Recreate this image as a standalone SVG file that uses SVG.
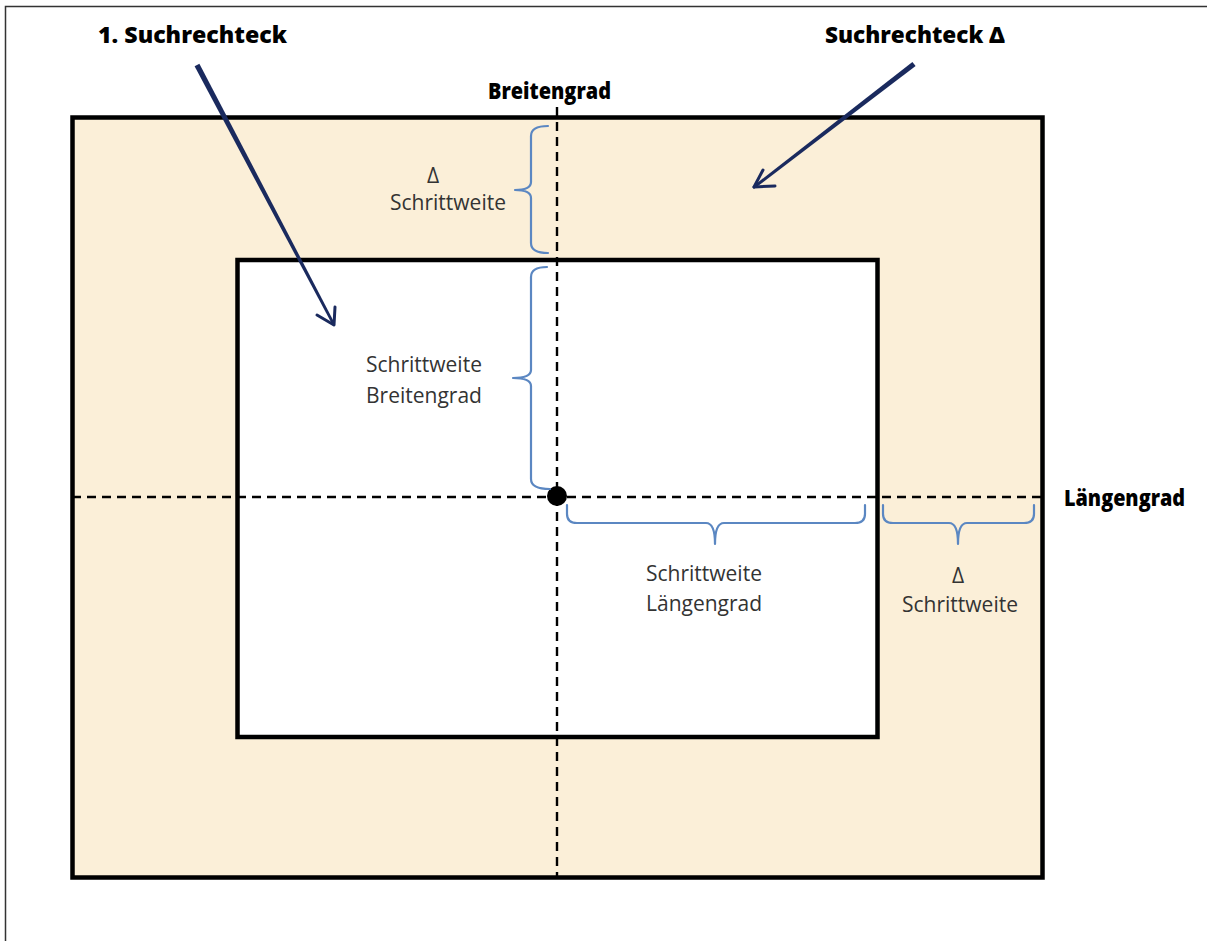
<svg xmlns="http://www.w3.org/2000/svg" width="1207" height="941" viewBox="0 0 1207 941">
  <style>
    .frame { fill: none; stroke: #333333; stroke-width: 1.5; }
    .box { stroke: #000000; stroke-width: 4.5; }
    .axis { fill: none; stroke: #000000; stroke-width: 2.4; stroke-dasharray: 9 6; }
    .brace { fill: none; stroke: #5b87c2; stroke-width: 2.2; stroke-linecap: round; stroke-linejoin: round; }
    .shaft { fill: #1a2a5e; }
    .head { fill: none; stroke: #1a2a5e; stroke-width: 3; stroke-linecap: round; stroke-linejoin: round; }
    .title { font-family: "Open Sans", "Liberation Sans", sans-serif; font-weight: 800; font-size: 22px; fill: #000000; }
    .label { font-family: "Open Sans", "Liberation Sans", sans-serif; font-size: 21px; fill: #333333; }
  </style>

  <rect x="0" y="0" width="1207" height="941" fill="#ffffff"/>
  <!-- page frame -->
  <path class="frame" d="M5.5,945 L5.5,6.5 L1207,6.5"/>

  <!-- search rectangle enlarged by delta -->
  <g id="outer-rect">
    <rect class="box" x="72.5" y="117.5" width="970" height="760" fill="#fbefd8"/>
  </g>

  <!-- first search rectangle -->
  <g id="inner-rect">
    <rect class="box" x="237.5" y="260" width="640" height="477" fill="#ffffff"/>
  </g>

  <!-- latitude / longitude axes -->
  <g id="axes">
    <line class="axis" x1="557" y1="107" x2="557" y2="877"/>
    <line class="axis" x1="72" y1="497" x2="1044" y2="497"/>
  </g>

  <g id="center-point">
    <circle cx="557" cy="496" r="10" fill="#000000"/>
  </g>

  <!-- curly braces marking step widths -->
  <g id="braces">
    <path class="brace" d="M548,126 Q531,126 531,136 L531,182 Q531,190 515,190 Q531,190 531,198 L531,243 Q531,253 548,253"/>
    <path class="brace" d="M547,267 Q531,267 531,277 L531,370 Q531,378 513,378 Q531,378 531,386 L531,479 Q531,489 550,489"/>
    <path class="brace" d="M567,505 L567,514 Q567,523 577,523 L706,523 Q715,523 715,544 Q715,523 724,523 L855,523 Q865,523 865,514 L865,505"/>
    <path class="brace" d="M883,505 L883,514 Q883,523 893,523 L949,523 Q958,523 958,544 Q958,523 967,523 L1024,523 Q1034,523 1034,514 L1034,505"/>
  </g>

  <!-- pointer arrows from the titles -->
  <g id="connectors">
    <g id="arrow-first">
      <polygon class="shaft" points="194.6,66.2 199.4,63.8 335.2,324.2 332.8,325.6"/>
      <path class="head" d="M317,315 L334,325 L335,307"/>
    </g>
    <g id="arrow-delta">
      <polygon class="shaft" points="912.4,61.9 915.6,66.1 753.9,189.1 752.1,186.9"/>
      <path class="head" d="M775,186 L754,187 L763,170"/>
    </g>
  </g>

  <!-- titles -->
  <g id="title-first">
    <text class="title" x="98" y="43" textLength="189" lengthAdjust="spacingAndGlyphs">1. Suchrechteck</text>
  </g>
  <g id="title-delta">
    <text class="title" x="825" y="43" textLength="180" lengthAdjust="spacingAndGlyphs">Suchrechteck Δ</text>
  </g>
  <g id="axis-lat">
    <text class="title" x="488" y="99" textLength="123" lengthAdjust="spacingAndGlyphs">Breitengrad</text>
  </g>
  <g id="axis-lon">
    <text class="title" x="1064" y="506" textLength="121" lengthAdjust="spacingAndGlyphs">Längengrad</text>
  </g>

  <!-- step width labels -->
  <g id="label-delta-lat">
    <text class="label" x="433" y="183" text-anchor="middle">Δ</text>
    <text class="label" x="448" y="210" text-anchor="middle">Schrittweite</text>
  </g>
  <g id="label-lat">
    <text class="label" x="366" y="372">Schrittweite</text>
    <text class="label" x="366" y="403">Breitengrad</text>
  </g>
  <g id="label-lon">
    <text class="label" x="646" y="581">Schrittweite</text>
    <text class="label" x="646" y="611">Längengrad</text>
  </g>
  <g id="label-delta-lon">
    <text class="label" x="958" y="583" text-anchor="middle">Δ</text>
    <text class="label" x="960" y="612" text-anchor="middle">Schrittweite</text>
  </g>
</svg>
